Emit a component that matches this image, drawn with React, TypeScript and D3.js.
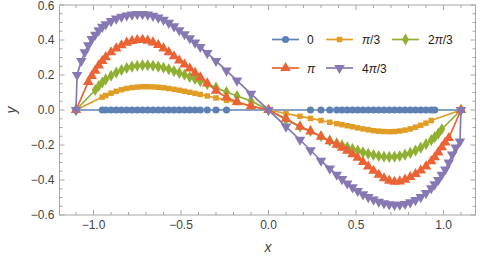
import * as d3 from "d3";

const _ = null;

// sample positions shared by all series (null = no sample for that series)
const xs = [
  -1.1, -1.094, -1.07, -1.05, -1.03, -1.01, -0.99, -0.97, -0.95,
  -0.93, -0.9, -0.87, -0.84, -0.81, -0.78, -0.75, -0.72, -0.69, -0.66,
  -0.63, -0.6, -0.57, -0.54, -0.51, -0.48, -0.45, -0.42, -0.39,
  -0.35, -0.3, -0.24, -0.18, -0.1,
  0,
  0.1, 0.18, 0.24, 0.3, 0.35,
  0.39, 0.42, 0.45, 0.48, 0.51, 0.54, 0.57, 0.6, 0.63, 0.66,
  0.69, 0.72, 0.75, 0.78, 0.81, 0.84, 0.87, 0.9, 0.93,
  0.95, 0.97, 0.99, 1.01, 1.03, 1.05, 1.07, 1.094, 1.1,
];

const y0 = [
  0, _, _, _, _, _, _, _, 0,
  0, 0, 0, 0, 0, 0, 0, 0, 0, 0, 0, 0, 0, 0, 0, 0, 0, 0, 0,
  0, 0, 0, _, _,
  0,
  _, _, 0, 0, 0,
  0, 0, 0, 0, 0, 0, 0, 0, 0, 0, 0, 0, 0, 0, 0, 0, 0, 0, 0,
  0, _, _, _, _, _, _, _, 0,
];

const y1 = [
  0, _, _, _, _, _, _, _, 0.074,
  0.083, 0.096, 0.107, 0.116, 0.123, 0.128, 0.131, 0.133, 0.133, 0.132,
  0.13, 0.127, 0.123, 0.118, 0.113, 0.107, 0.101, 0.095, 0.089,
  0.08, 0.069, 0.055, 0.042, 0.023,
  0,
  -0.02, -0.036, -0.048, -0.06, -0.07,
  -0.078, -0.084, -0.09, -0.096, -0.102, -0.108, -0.113, -0.118, -0.121, -0.123,
  -0.124, -0.123, -0.12, -0.115, -0.108, -0.098, -0.087, -0.075, -0.06,
  _, _, _, _, _, _, _, _, 0,
];

const y2 = [
  0, _, _, _, _, _, 0.114, 0.137, 0.157,
  0.175, 0.196, 0.214, 0.229, 0.24, 0.248, 0.253, 0.256, 0.256, 0.253,
  0.248, 0.241, 0.233, 0.223, 0.212, 0.201, 0.189, 0.177, 0.164,
  0.148, 0.128, 0.103, 0.08, 0.052,
  0,
  -0.055, -0.095, -0.12, -0.15, -0.175,
  -0.19, -0.202, -0.213, -0.223, -0.232, -0.242, -0.25, -0.257, -0.263, -0.267,
  -0.268, -0.267, -0.263, -0.255, -0.245, -0.232, -0.215, -0.195, -0.172,
  -0.155, -0.135, -0.11, _, _, _, _, _, 0,
];

const y3 = [
  0, _, _, _, 0.16, 0.195, 0.225, 0.255, 0.28,
  0.302, 0.33, 0.352, 0.37, 0.385, 0.395, 0.4, 0.401, 0.396, 0.386,
  0.371, 0.352, 0.33, 0.307, 0.283, 0.26, 0.237, 0.212, 0.187,
  0.152, 0.11, 0.072, 0.046, 0.022,
  0,
  -0.05, -0.095, -0.122, -0.152, -0.178,
  -0.198, -0.215, -0.233, -0.252, -0.273, -0.297, -0.322, -0.347, -0.37, -0.39,
  -0.404, -0.41, -0.408, -0.398, -0.383, -0.366, -0.346, -0.322, -0.293,
  -0.27, -0.242, -0.213, -0.186, -0.16, _, _, _, 0,
];

const y4 = [
  0, 0.2, 0.28, 0.33, 0.37, 0.405, 0.43, 0.455, 0.475,
  0.49, 0.508, 0.522, 0.532, 0.54, 0.545, 0.548, 0.548, 0.545, 0.538,
  0.528, 0.515, 0.498, 0.478, 0.456, 0.433, 0.41, 0.385, 0.36,
  0.325, 0.28, 0.225, 0.168, 0.092,
  0,
  -0.095, -0.17, -0.23, -0.29, -0.335,
  -0.37, -0.395, -0.42, -0.442, -0.463, -0.482, -0.498, -0.512, -0.524, -0.533,
  -0.539, -0.542, -0.541, -0.537, -0.528, -0.515, -0.498, -0.475, -0.447,
  -0.425, -0.4, -0.37, -0.34, -0.3, -0.255, -0.215, -0.18, 0,
];

const names = ["0", "π/3", "2π/3", "π", "4π/3"];
const colors = ["#5e81b5", "#e19c24", "#8fb032", "#eb6235", "#8778b3"];
const values = [y0, y1, y2, y3, y4];

const xMajor = [-1, -0.5, 0, 0.5, 1];
const yMajor = [-0.6, -0.4, -0.2, 0, 0.2, 0.4, 0.6];

const width = 480;
const height = 262;
const left = 59.5, right = 475.5, top = 5, bottom = 215;

function marker(i: number) {
  const types = [d3.symbolCircle, d3.symbolSquare, d3.symbolDiamond, d3.symbolTriangle, d3.symbolTriangle];
  const sizes = [40, 30, 42, 48, 48];
  return d3.symbol(types[i], sizes[i])() as string;
}

function fmt(v: number) {
  return d3.format(".1f")(v).replace("-", "−");
}

function Label({ text }: { text: string }) {
  const parts = text.split("π");
  return (
    <>
      {parts.map((p, i) => (
        <tspan key={i}>
          {p}
          {i < parts.length - 1 && <tspan fontStyle="italic">π</tspan>}
        </tspan>
      ))}
    </>
  );
}

export default function App() {
  const x = d3.scaleLinear([-1.1943, 1.1829], [left, right]);
  const y = d3.scaleLinear([-0.6, 0.6], [bottom, top]);

  const xMinor = d3.range(-11, 12).map((d) => d / 10).filter((d) => Math.abs(d * 2 - Math.round(d * 2)) > 1e-6);
  const yMinor = d3.range(-12, 13).map((d) => d / 20).filter((d) => Math.abs(d * 5 - Math.round(d * 5)) > 1e-6);

  const line = d3.line<[number, number]>((d) => x(d[0]), (d) => y(d[1]));

  const series = values.map((vals) =>
    xs.map((xv, i) => [xv, vals[i]] as [number, number | null]).filter((d) => d[1] !== null) as [number, number][]
  );

  const frame = "#a6a6a6";
  const legendRows = [
    { i: 0, lx: 272, tx: 307, ly: 39.5 },
    { i: 1, lx: 326, tx: 362, ly: 39.5 },
    { i: 2, lx: 392, tx: 428, ly: 39.5 },
    { i: 3, lx: 272, tx: 307, ly: 68 },
    { i: 4, lx: 326, tx: 362, ly: 68 },
  ];

  return (
    <svg width={width} height={height} style={{ position: "absolute", left: 0, top: 0 }} fontFamily="Liberation Sans, Arial, sans-serif">
      <rect width={width} height={height} fill="white" />
      {/* frame */}
      <rect x={left} y={top} width={right - left} height={bottom - top} fill="none" stroke={frame} strokeWidth={1} />
      <g stroke={frame} strokeWidth={1}>
        {xMajor.map((d) => (
          <g key={"xM" + d}>
            <line x1={x(d)} x2={x(d)} y1={bottom} y2={bottom - 5} />
            <line x1={x(d)} x2={x(d)} y1={top} y2={top + 5} />
          </g>
        ))}
        {xMinor.map((d) => (
          <g key={"xm" + d}>
            <line x1={x(d)} x2={x(d)} y1={bottom} y2={bottom - 3} />
            <line x1={x(d)} x2={x(d)} y1={top} y2={top + 3} />
          </g>
        ))}
        {yMajor.map((d) => (
          <g key={"yM" + d}>
            <line x1={left} x2={left + 5} y1={y(d)} y2={y(d)} />
            <line x1={right} x2={right - 5} y1={y(d)} y2={y(d)} />
          </g>
        ))}
        {yMinor.map((d) => (
          <g key={"ym" + d}>
            <line x1={left} x2={left + 3} y1={y(d)} y2={y(d)} />
            <line x1={right} x2={right - 3} y1={y(d)} y2={y(d)} />
          </g>
        ))}
      </g>
      <g fontSize={12} fill="#444">
        {xMajor.map((d) => (
          <text key={"xl" + d} x={x(d)} y={bottom + 14} textAnchor="middle">
            {fmt(d)}
          </text>
        ))}
        {yMajor.map((d) => (
          <text key={"yl" + d} x={left - 5} y={Math.max(y(d) + 4, 10)} textAnchor="end">
            {fmt(d)}
          </text>
        ))}
      </g>
      <text x={268} y={252} fontSize={14} fontStyle="italic" fill="#444" textAnchor="middle">x</text>
      <text transform="translate(16,110) rotate(-90)" fontSize={14} fontStyle="italic" fill="#444" textAnchor="middle">y</text>

      {/* series */}
      {series.map((pts, k) => (
        <g key={"s" + k}>
          <path d={line(pts) ?? ""} fill="none" stroke={colors[k]} strokeWidth={1.7} />
          <g fill={colors[k]}>
            {pts.map((p, j) => (
              <path
                key={j}
                d={marker(k)}
                transform={`translate(${x(p[0])},${y(p[1])})${k === 4 ? " rotate(180)" : ""}`}
              />
            ))}
          </g>
        </g>
      ))}

      {/* legend */}
      {legendRows.map((r) => (
        <g key={"lg" + r.i}>
          <line x1={r.lx} x2={r.lx + 27} y1={r.ly} y2={r.ly} stroke={colors[r.i]} strokeWidth={1.7} />
          <path
            d={marker(r.i)}
            fill={colors[r.i]}
            transform={`translate(${r.lx + 13.5},${r.ly})${r.i === 4 ? " rotate(180)" : ""}`}
          />
          <text x={r.tx} y={r.ly + 4.5} fontSize={12} fill="#222">
            <Label text={names[r.i]} />
          </text>
        </g>
      ))}
    </svg>
  );
}
